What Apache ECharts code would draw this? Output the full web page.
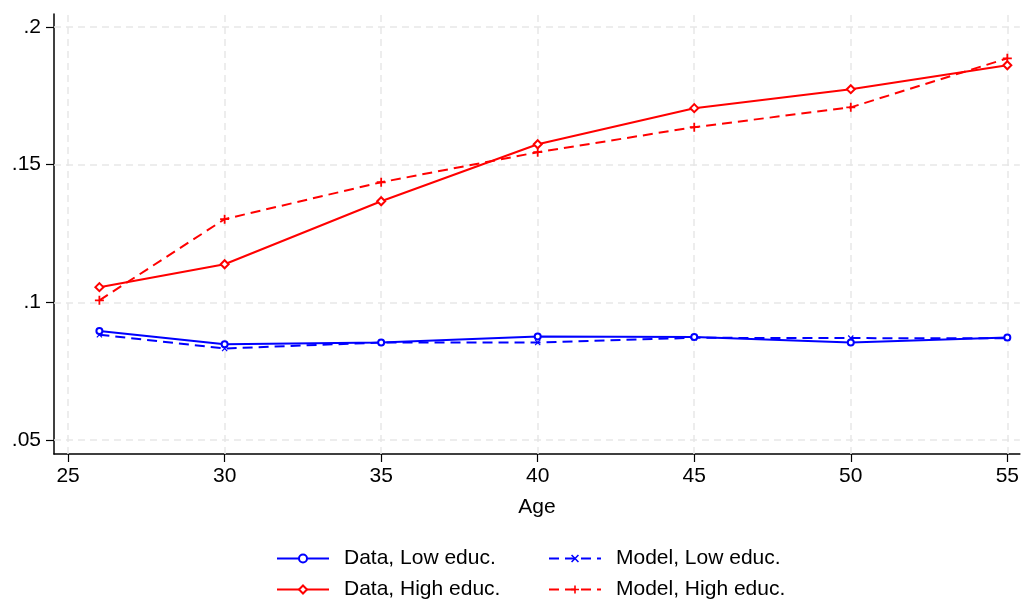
<!DOCTYPE html>
<html><head><meta charset="utf-8">
<script src="https://cdn.jsdelivr.net/npm/echarts@6/dist/echarts.min.js"></script>
<style>html,body{margin:0;padding:0;background:#fff}#c{width:1022px;height:600px}</style>
</head><body><div id="c"></div>
<script>
const ages = [26, 30, 35, 40, 45, 50, 55];
const dataLow  = [0.0896, 0.0848, 0.0854, 0.0876, 0.0874, 0.0854, 0.0872];
const dataHigh = [0.1055, 0.1138, 0.1367, 0.1574, 0.1705, 0.1774, 0.1861];
const modelLow = [0.0882, 0.0832, 0.0854, 0.0854, 0.0871, 0.0870, 0.0869];
const modelHigh= [0.1007, 0.1302, 0.1436, 0.1545, 0.1636, 0.1708, 0.1886];
const xTicks = [25, 30, 35, 40, 45, 50, 55];
const yTicks = [0.05, 0.1, 0.15, 0.2];
const seriesNames = ['Data, Low educ.', 'Data, High educ.', 'Model, Low educ.', 'Model, High educ.'];

const pair = arr => ages.map((a, i) => [a, arr[i]]);
const FONT = "'Liberation Sans', Arial, sans-serif";
const plusPath = 'path://M4,0h2v10h-2z M0,4h10v2h-10z';
const xPath = 'path://M0,1.4L1.4,0L10,8.6L8.6,10Z M8.6,0L10,1.4L1.4,10L0,8.6Z';

const gridLines = yTicks.map(v => ({yAxis: v})).concat(xTicks.map(v => ({xAxis: v})));

const legendPos = [[271, 543], [271, 574], [543, 543], [543, 574]];
const legends = seriesNames.map((n, i) => ({
  data: [n], left: legendPos[i][0], top: legendPos[i][1],
  itemWidth: 52, itemHeight: 10,
  textStyle: {fontSize: 21, color: '#000', padding: [0, 0, 0, 10], fontFamily: FONT}
}));

const chart = echarts.init(document.getElementById('c'));
chart.setOption({
  animation: false,
  textStyle: {fontFamily: FONT},
  grid: {left: 54, right: 2, top: 14, bottom: 146, containLabel: false},
  xAxis: {
    type: 'value', min: 24.55, max: 55.4,
    name: 'Age', nameLocation: 'middle', nameGap: 43,
    nameTextStyle: {fontSize: 21, color: '#000', fontFamily: FONT},
    axisLine: {show: true, lineStyle: {color: '#000', width: 1.5}},
    axisTick: {show: true, length: 8, customValues: xTicks, lineStyle: {color: '#000', width: 1.2}},
    axisLabel: {customValues: xTicks, fontSize: 21, color: '#000', margin: 12, fontFamily: FONT},
    splitLine: {show: false}
  },
  yAxis: {
    type: 'value', min: 0.0449, max: 0.2047,
    axisLine: {show: true, lineStyle: {color: '#000', width: 1.5}},
    axisTick: {show: true, length: 8, customValues: yTicks, lineStyle: {color: '#000', width: 1.2}},
    axisLabel: {customValues: yTicks, fontSize: 21, color: '#000', margin: 13, fontFamily: FONT,
      formatter: v => String(+v.toFixed(2)).replace(/^0/, '')},
    splitLine: {show: false}
  },
  legend: legends,
  series: [
    {name: seriesNames[0], type: 'line', data: pair(dataLow), z: 4,
     symbol: 'emptyCircle', symbolSize: 6, color: '#0000ff',
     lineStyle: {width: 2, color: '#0000ff'}, itemStyle: {color: '#0000ff', borderWidth: 1.5},
     markLine: {silent: true, symbol: 'none', z: 1, label: {show: false}, animation: false,
       lineStyle: {color: '#e8e8e8', type: [7, 5], width: 1.5}, emphasis: {disabled: true},
       data: gridLines}},
    {name: seriesNames[1], type: 'line', data: pair(dataHigh), z: 4,
     symbol: 'emptyDiamond', symbolSize: 8, color: '#ff0000',
     lineStyle: {width: 2, color: '#ff0000'}, itemStyle: {color: '#ff0000', borderWidth: 1.5}},
    {name: seriesNames[2], type: 'line', data: pair(modelLow), z: 3,
     symbol: xPath, symbolSize: 6, color: '#0000ff',
     lineStyle: {width: 2, color: '#0000ff', type: [10, 6]}, itemStyle: {color: '#0000ff'}},
    {name: seriesNames[3], type: 'line', data: pair(modelHigh), z: 3,
     symbol: plusPath, symbolSize: 9, color: '#ff0000',
     lineStyle: {width: 2, color: '#ff0000', type: [10, 6]}, itemStyle: {color: '#ff0000'}}
  ]
});
</script></body></html>
